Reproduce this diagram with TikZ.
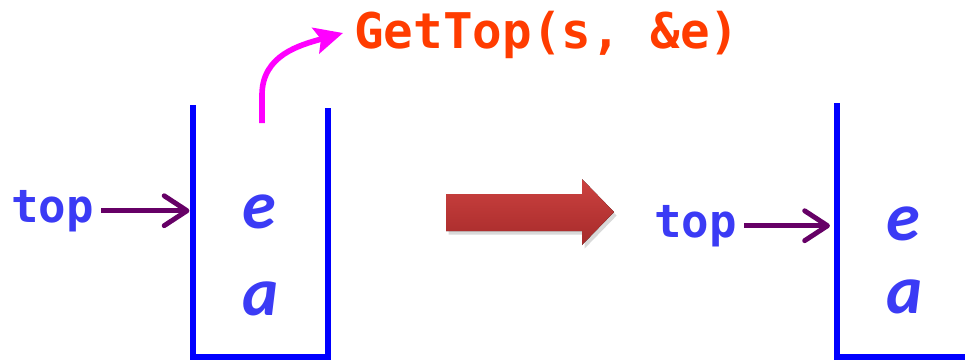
\documentclass[tikz,border=0pt]{standalone}
\usepackage{fontspec}
\usetikzlibrary{arrows.meta,shadows}
\newfontfamily\codefont{DejaVu Sans Mono}
\newfontfamily\itemfont{Carlito}
\definecolor{wallblue}{RGB}{0,0,255}
\definecolor{textblue}{RGB}{59,59,245}
\definecolor{ptrpurple}{RGB}{102,0,102}
\definecolor{callred}{RGB}{255,60,0}
\definecolor{popmagenta}{RGB}{255,0,255}
\definecolor{bigred}{RGB}{204,66,64}
\definecolor{bigdark}{RGB}{166,42,42}

\begin{document}
\begin{tikzpicture}[x=0.02cm,y=-0.02cm,
        wall/.style={draw=wallblue,line width=3.2pt},
        ptr/.style={textblue,inner sep=0pt,anchor=base west,
            font=\codefont\bfseries\fontsize{26}{26}\selectfont},
        item/.style={textblue,inner sep=0pt,anchor=base,
            font=\itemfont\bfseries\itshape\fontsize{39}{39}\selectfont},
        ptrarrow/.style={ptrpurple,line width=2.8pt,shorten <=4pt,
            -{Straight Barb[length=13pt,width=17pt,round]}}]
    \useasboundingbox (0,0) rectangle (965,360);

    % stack before
    \coordinate (L1) at (193,105);
    \coordinate (L2) at (193,357);
    \coordinate (L3) at (328,357);
    \coordinate (L4) at (328,108);
    \draw [wall] (L1) -- (L2) -- (L3) -- (L4);
    \node [item] (eL) at (259,228) {e};
    \node [item] (aL) at (261,315) {a};
    \node [ptr] (topL) at (11,222) {top};
    \draw [ptrarrow] (topL.east) -- ([xshift=-2pt]topL.east -| L1);

    % element taken off the top
    \node [anchor=base west,inner sep=0pt,callred,
        font=\codefont\bfseries\fontsize{28}{28}\selectfont] (call) at (354,48) {GetTop(s, \&e)};
    \coordinate (pop) at (262,123);
    \draw [popmagenta,line width=3.2pt,-{Stealth[length=16pt,width=15pt,inset=3pt]}]
        (pop) -- (262,95) .. controls (262,55) and (300,45) .. (343,33);

    % big arrow
    \fill [top color=bigred,bottom color=bigdark,
        drop shadow={shadow xshift=1.5pt,shadow yshift=-2pt,opacity=0.3}]
        (446,194) -- (582,194) -- (582,179) -- (614,212) -- (582,245) -- (582,231) -- (446,231) -- cycle;

    % stack after
    \coordinate (R1) at (837,103);
    \coordinate (R2) at (837,357);
    \coordinate (R3) at (967,357);
    \draw [wall] (R1) -- (R2) -- (R3);
    \node [item] (eR) at (903,240) {e};
    \node [item] (aR) at (905,313) {a};
    \node [ptr] (topR) at (654,237) {top};
    \draw [ptrarrow] (topR.east) -- ([xshift=-4pt]topR.east -| R1);
\end{tikzpicture}
\end{document}
